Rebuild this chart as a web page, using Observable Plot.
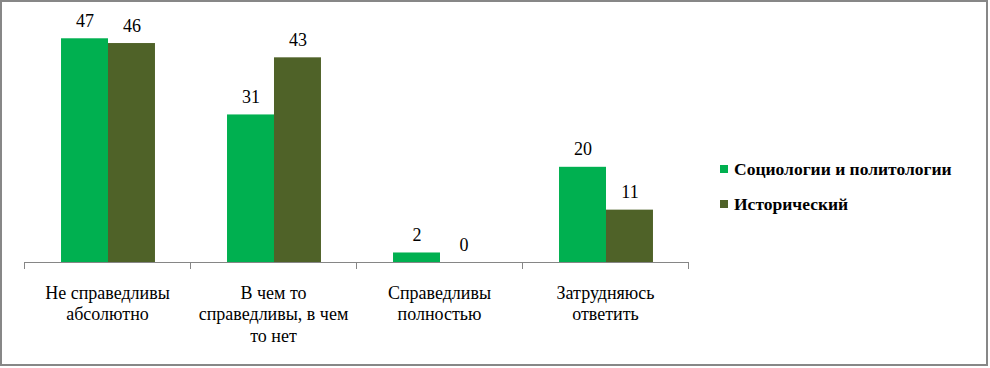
<!DOCTYPE html>
<html><head><meta charset="utf-8">
<script src="https://cdn.jsdelivr.net/npm/d3@7"></script>
<script src="https://cdn.jsdelivr.net/npm/@observablehq/plot@0.6"></script>
<style>
body{margin:0;background:#fff;}
#wrap{position:relative;width:990px;height:368px;font-family:'Liberation Serif','DejaVu Serif',serif;}
#chart{position:absolute;left:0;top:0;}
#border{position:absolute;left:0;top:0;width:988px;height:366px;box-sizing:border-box;border:2px solid #878787;pointer-events:none;}
#legend{position:absolute;left:720px;top:158px;}
.item{display:flex;align-items:center;height:22px;margin-bottom:13px;font-weight:bold;font-size:17.5px;color:#000;white-space:nowrap;}
.sw{width:8px;height:8px;margin-right:6px;display:inline-block;}
#chart svg text{font-family:'Liberation Serif','DejaVu Serif',serif;}
</style></head>
<body><div id="wrap"><div id="chart"></div><div id="legend"></div><div id="border"></div></div>
<script>
const categories = ["Не справедливы абсолютно", "В чем то справедливы, в чем то нет", "Справедливы полностью", "Затрудняюсь ответить"];
const tickLabels = ["Не справедливы\nабсолютно", "В чем то\nсправедливы, в чем\nто нет", "Справедливы\nполностью", "Затрудняюсь\nответить"];
const seriesNames = ["Социологии и политологии", "Исторический"];
const sociology = [47, 31, 2, 20];
const historical = [46, 43, 0, 11];
const colors = ["#00B050", "#4F6228"];

const groupStart = 0.223, barW = 0.283; // layout in category units
const seriesValues = [sociology, historical];
const rows = [];
categories.forEach((c, i) => {
  seriesValues.forEach((vals, s) => {
    const x1 = i + groupStart + s * barW;
    rows.push({category: c, i, series: seriesNames[s], s, value: vals[i], x1, x2: x1 + barW});
  });
});

const chart = Plot.plot({
  width: 990, height: 368,
  marginLeft: 24, marginRight: 302, marginTop: 24, marginBottom: 106,
  style: {background: "transparent", overflow: "visible"},
  x: {domain: [0, categories.length]},
  y: {domain: [0, 50], axis: null},
  color: {domain: seriesNames, range: colors},
  marks: [
    Plot.rectY(rows, {x1: "x1", x2: "x2", y: "value", fill: "series"}),
    Plot.ruleY([0], {stroke: "#868686", strokeWidth: 1}),
    Plot.axisX({ticks: d3.range(categories.length + 1), tickSize: 7, tickFormat: () => "", stroke: "#868686"}),
    Plot.text(rows, {x: d => (d.x1 + d.x2) / 2, y: "value", text: d => String(d.value), lineAnchor: "bottom", dy: -12, fontSize: 18, fill: "#000"}),
    Plot.text(categories, {x: (d, i) => i + 0.5, y: () => 0, text: (d, i) => tickLabels[i], lineAnchor: "top", dy: 21, fontSize: 18, lineHeight: 1.2, fill: "#000"})
  ]
});
document.getElementById("chart").appendChild(chart);

const legend = document.getElementById("legend");
seriesNames.forEach((n, i) => {
  const it = document.createElement("div");
  it.className = "item";
  const sw = document.createElement("span");
  sw.className = "sw"; sw.style.background = colors[i];
  it.appendChild(sw);
  it.appendChild(document.createTextNode(n));
  legend.appendChild(it);
});
</script></body></html>
